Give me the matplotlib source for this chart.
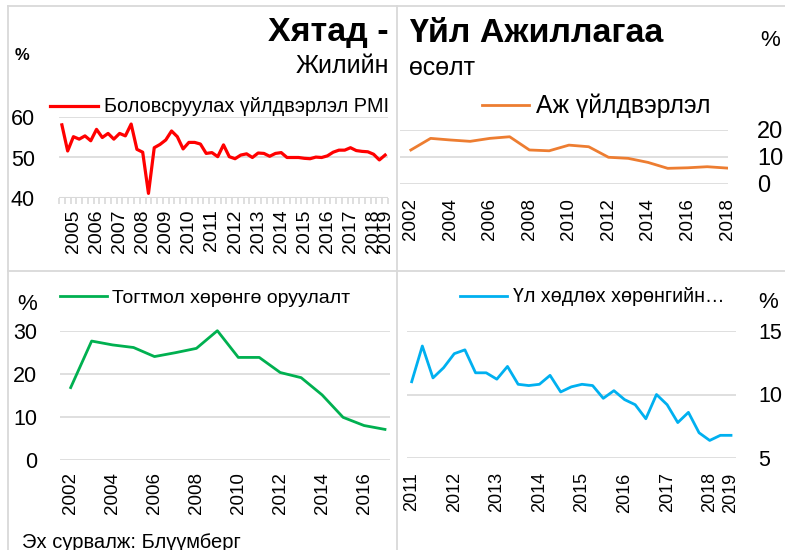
import matplotlib
matplotlib.use("Agg")
import matplotlib.pyplot as plt
from matplotlib.lines import Line2D

plt.rcParams['font.family'] = ['Liberation Sans', 'DejaVu Sans']

W, H = 785, 550
PT = 0.72  # points per pixel at dpi 100
GRID = '#d9d9d9'

# PMI, quarterly, 57 points
pmi = [58.0, 51.6, 55.1, 54.5, 55.3, 54.1, 56.9, 54.9, 55.9, 54.5,
       55.9, 55.3, 58.2, 52.0, 51.3, 41.2, 52.4, 53.2, 54.3, 56.5,
       55.1, 52.1, 53.7, 53.7, 53.3, 51.0, 51.2, 50.2, 53.1, 50.2,
       49.7, 50.6, 50.9, 50.0, 51.1, 51.0, 50.3, 51.0, 51.2, 50.0,
       50.0, 50.0, 49.8, 49.7, 50.1, 50.0, 50.4, 51.3, 51.8, 51.8,
       52.4, 51.7, 51.5, 51.4, 50.8, 49.4, 50.6]
pmi_labels = ['2005', '2006', '2007', '2008', '2009', '2010', '2011',
              '2012', '2013', '2014', '2015', '2016', '2017', '2018', '2019']

# industrial production, yearly
ip_years = list(range(2002, 2019))
ip = [12.6, 16.9, 16.3, 15.8, 16.9, 17.5, 12.6, 12.3, 14.4, 13.8,
      9.9, 9.5, 8.0, 5.8, 6.0, 6.4, 5.9]

# fixed asset investment, yearly
fai_years = list(range(2002, 2018))
fai = [16.8, 27.6, 26.7, 26.1, 24.0, 24.9, 25.9, 30.0, 23.8, 23.8,
       20.3, 19.1, 15.1, 9.9, 8.0, 7.1]

# real estate investment, quarterly 2011-2018
rei = [11.0, 13.8, 11.3, 12.1, 13.2, 13.5, 11.7, 11.7, 11.2, 12.2,
       10.8, 10.7, 10.8, 11.5, 10.2, 10.6, 10.8, 10.7, 9.7, 10.3,
       9.6, 9.2, 8.1, 10.0, 9.2, 7.8, 8.6, 7.0, 6.4, 6.8, 6.8]
rei_labels = ['2011', '2012', '2013', '2014', '2015', '2016', '2017', '2018', '2019']


def add_ax(fig, x0, y0, x1, y1):
    return fig.add_axes([x0 / W, 1 - y1 / H, (x1 - x0) / W, (y1 - y0) / H])


def style(ax, ypad, xpad):
    for s in ax.spines.values():
        s.set_visible(False)
    ax.grid(axis='y', color=GRID, lw=1.2)
    ax.set_axisbelow(True)
    ax.tick_params(axis='both', length=0, labelsize=15.5)
    ax.tick_params(axis='y', pad=ypad * PT)
    ax.tick_params(axis='x', which='major', pad=xpad * PT)


def ftext(fig, x, y, s, **kw):
    fig.text(x / W, 1 - y / H, s, **kw)


def legend(ax, fig, x, y, size, hlen):
    ax.legend(loc='center left', bbox_to_anchor=(x / W, 1 - y / H),
              bbox_transform=fig.transFigure, frameon=False, fontsize=size,
              handlelength=hlen, handletextpad=0.3, borderpad=0, borderaxespad=0)


fig = plt.figure(figsize=(W / 100, H / 100), dpi=100)

# panel borders
for xs, ys in [((8, 785), (6, 6)), ((8, 8), (6, 550)),
               ((397, 397), (6, 550)), ((8, 785), (271, 271))]:
    fig.add_artist(Line2D([x / W for x in xs], [1 - y / H for y in ys],
                          color=GRID, lw=1.3))

# --- PMI
ax1 = add_ax(fig, 59, 116.7, 388, 198.3)
style(ax1, 24, 11)
idx = list(range(len(pmi)))
ax1.plot(idx, pmi, color='#ff0000', lw=2.3, label='Боловсруулах үйлдвэрлэл PMI')
ax1.set_xlim(-0.5, len(pmi) - 0.5)
ax1.set_ylim(40, 60)
ax1.set_yticks([40, 50, 60])
pos = [2 + 4 * i for i in range(len(pmi_labels) - 1)] + [len(pmi) - 1]
ax1.set_xticks(pos)
ax1.set_xticklabels(pmi_labels, rotation=90, fontsize=14)
ax1.set_xticks([i - 0.5 for i in range(len(pmi) + 1)], minor=True)
ax1.tick_params(axis='x', which='minor', length=4, color=GRID, width=1.2)
ax1.axhline(40, color=GRID, lw=1.5)
legend(ax1, fig, 50, 107, 14.3, 2.4)
ftext(fig, 389, 33, 'Хятад -', fontsize=24.5, fontweight='bold', ha='right', va='center')
ftext(fig, 389, 66, 'Жилийн', fontsize=18, ha='right', va='center')
ftext(fig, 22, 55, '%', fontsize=12, fontweight='bold', ha='center', va='center')

# --- industrial production
ax2 = add_ax(fig, 400, 130, 728, 184)
style(ax2, 29, 14)
ax2.plot(ip_years, ip, color='#ed7d31', lw=2, label='Аж үйлдвэрлэл')
ax2.set_xlim(2001.45, 2018.05)
ax2.set_ylim(0, 20)
ax2.set_yticks([0, 10, 20])
ax2.yaxis.tick_right()
ax2.tick_params(axis='y', labelsize=17)
ax2.set_xticks(ip_years[::2])
ax2.set_xticklabels([str(y) for y in ip_years[::2]], rotation=90, fontsize=13.5)
legend(ax2, fig, 482, 106, 17.8, 1.9)
ftext(fig, 409, 33, 'Үйл Ажиллагаа', fontsize=24.5, fontweight='bold', ha='left', va='center')
ftext(fig, 409, 68, 'өсөлт', fontsize=18, ha='left', va='center')
ftext(fig, 770, 40, '%', fontsize=16, ha='center', va='center')

# --- fixed asset investment
ax3 = add_ax(fig, 60, 330.7, 390, 460)
style(ax3, 23, 12)
ax3.plot(fai_years, fai, color='#00b050', lw=2, label='Тогтмол хөрөнгө оруулалт',
         clip_on=False)
ax3.set_xlim(2001.49, 2017.24)
ax3.set_ylim(0, 30)
ax3.set_yticks([0, 10, 20, 30])
ax3.set_xticks(fai_years[::2])
ax3.set_xticklabels([str(y) for y in fai_years[::2]], rotation=90, fontsize=13.5)
legend(ax3, fig, 60, 298, 14, 2.4)
ftext(fig, 27, 305, '%', fontsize=16, ha='center', va='center')
ftext(fig, 22, 542, 'Эх сурвалж: Блүүмберг', fontsize=14.5, ha='left', va='center')

# --- real estate investment
ax4 = add_ax(fig, 407, 330.7, 736, 458.3)
style(ax4, 22, 14)
idx4 = list(range(len(rei)))
ax4.plot(idx4, rei, color='#00b0f0', lw=2, label='Үл хөдлөх хөрөнгийн…')
ax4.set_xlim(-0.44, len(rei) - 0.53)
ax4.set_ylim(5, 15)
ax4.set_yticks([5, 10, 15])
ax4.yaxis.tick_right()
pos4 = [4 * i for i in range(len(rei_labels) - 1)] + [len(rei) - 1]
ax4.set_xticks(pos4)
ax4.set_xticklabels(rei_labels, rotation=90, fontsize=13)
legend(ax4, fig, 460, 297, 14.1, 2.4)
ftext(fig, 768, 303, '%', fontsize=16, ha='center', va='center')

fig.savefig('out.png', dpi=100, facecolor='white')
